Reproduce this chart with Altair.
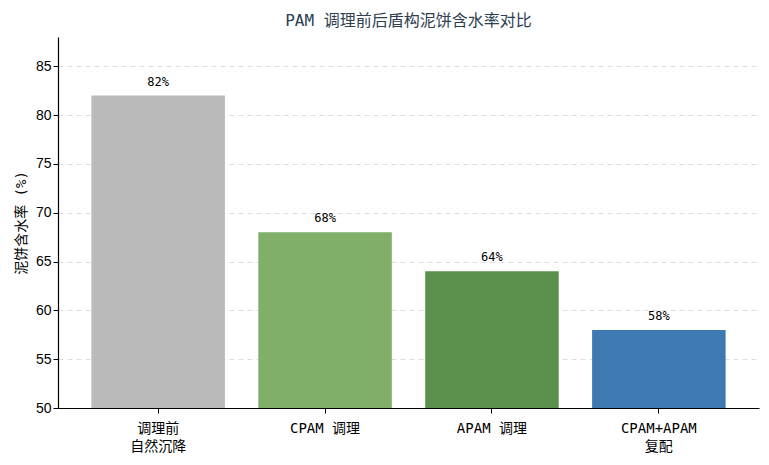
import pandas as pd
import altair as alt

categories = ["调理前\n自然沉降", "CPAM 调理", "APAM 调理", "CPAM+APAM\n复配"]
moisture = [82, 68, 64, 58]
colors = ["#bababa", "#7faf69", "#5b8f4c", "#3e7ab2"]

df = pd.DataFrame({"cat": categories, "val": moisture, "color": colors})
df["label"] = df["val"].astype(str) + "%"

cjk = "DejaVu Sans Mono, Noto Sans CJK SC"

x = alt.X("cat:N", sort=categories, title=None,
          scale=alt.Scale(paddingInner=0.2, paddingOuter=0.2),
          axis=alt.Axis(labelAngle=0, labelExpr="split(datum.label, '\\n')",
                        labelFont=cjk, labelFontSize=14, labelColor="#000000",
                        labelPadding=8, labelLineHeight=18,
                        domainColor="#000000", tickColor="#000000", tickSize=5))

y = alt.Y("val:Q", title="泥饼含水率 (%)",
          scale=alt.Scale(domain=[50, 88], nice=False, zero=False, clamp=True),
          axis=alt.Axis(values=[50, 55, 60, 65, 70, 75, 80, 85],
                        labelFont="Liberation Sans", labelFontSize=14, labelColor="#000000",
                        titleFont=cjk, titleFontSize=14, titleFontWeight="normal",
                        titleColor="#000000", titlePadding=7,
                        domainColor="#000000", tickColor="#000000", tickSize=5,
                        grid=True, gridColor="#dddddd", gridDash=[5, 4]))

base = alt.Chart(df)

bars = base.mark_bar().encode(
    x=x, y=y, color=alt.Color("color:N", scale=None)
)

text = base.mark_text(baseline="bottom", dy=-7, font=cjk, fontSize=12, color="#000000").encode(
    x=alt.X("cat:N", sort=categories), y="val:Q", text="label:N"
)

chart = (bars + text).properties(
    width=701, height=371,
    autosize=alt.AutoSizeParams(type="none"),
    padding={"left": 50, "top": 29, "right": 2, "bottom": 50},
    title=alt.TitleParams("PAM 调理前后盾构泥饼含水率对比", font=cjk, fontSize=16,
                          fontWeight="normal", color="#2c3e50", offset=8, anchor="middle"),
).configure_view(stroke=None).configure_axis(domainWidth=1.2)

chart.save("out.html", embed_options={"renderer": "svg", "actions": False})
